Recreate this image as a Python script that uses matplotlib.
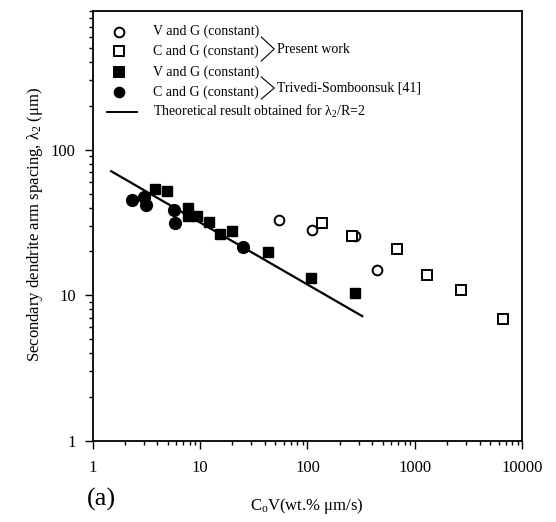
import matplotlib
matplotlib.use("Agg")
import matplotlib.pyplot as plt
from matplotlib.ticker import FuncFormatter, NullFormatter, LogLocator

plt.rcParams["font.family"] = ["Liberation Serif", "DejaVu Serif"]
plt.rcParams["mathtext.default"] = "regular"

# Present work
present_vg_x = [54.3, 109, 277, 440]
present_vg_y = [32.9, 28.0, 25.7, 15.0]
present_cg_x = [136, 258, 684, 1301, 2679, 6590]
present_cg_y = [31.4, 25.6, 20.7, 13.8, 10.8, 6.84]

# Trivedi-Somboonsuk [41]
trivedi_vg_x = [3.81, 4.88, 7.73, 7.73, 9.38, 12.1, 15.5, 19.8, 42.9, 107, 277]
trivedi_vg_y = [54.0, 51.9, 39.6, 35.2, 35.2, 31.9, 26.5, 27.8, 19.8, 13.1, 10.4]
trivedi_cg_x = [2.32, 2.99, 3.15, 5.77, 5.85, 25.1]
trivedi_cg_y = [44.8, 47.4, 41.4, 38.4, 31.1, 21.6]

# Theoretical result, lambda2/R = 2
theory_x = [1.49, 323]
theory_y = [71.2, 7.17]

x_ticks = [1, 10, 100, 1000, 10000]
y_ticks = [1, 10, 100]

LEGEND_SIZE = 10

fig = plt.figure(figsize=(5.56, 5.22), dpi=100)
ax = fig.add_axes([0.1664, 0.1561, 0.7733, 0.8228])

ax.plot(theory_x, theory_y, color="black", linewidth=1.6)
ax.plot(present_vg_x, present_vg_y, "o", markersize=7, markerfacecolor="white",
        markeredgecolor="black", markeredgewidth=1.4, linestyle="none")
ax.plot(present_cg_x, present_cg_y, "s", markersize=7, markerfacecolor="white",
        markeredgecolor="black", markeredgewidth=1.4, linestyle="none")
ax.plot(trivedi_vg_x, trivedi_vg_y, "s", markersize=7.5, color="black",
        linestyle="none")
ax.plot(trivedi_cg_x, trivedi_cg_y, "o", markersize=8.5, color="black",
        linestyle="none")

ax.set_xscale("log")
ax.set_yscale("log")
ax.set_xlim(1, 10000)
ax.set_ylim(1, 900)
ax.set_xticks(x_ticks)
ax.set_yticks(y_ticks)
ax.xaxis.set_minor_locator(LogLocator(base=10, subs=range(2, 10)))
ax.yaxis.set_minor_locator(LogLocator(base=10, subs=range(2, 10)))
fmt = FuncFormatter(lambda v, p: f"{v:g}")
ax.xaxis.set_major_formatter(fmt)
ax.yaxis.set_major_formatter(fmt)
ax.xaxis.set_minor_formatter(NullFormatter())
ax.yaxis.set_minor_formatter(NullFormatter())

ax.tick_params(which="both", direction="out", top=False, right=False,
               width=1.0, labelsize=12)
ax.tick_params(which="major", length=6)
ax.tick_params(which="minor", length=3)
ax.tick_params(axis="x", pad=8)
ax.tick_params(axis="y", pad=6)
for spine in ax.spines.values():
    spine.set_linewidth(1.3)

ax.set_xlabel("C$_o$V(wt.% μm/s)", fontsize=12)
ax.set_ylabel("Secondary dendrite arm spacing, λ$_2$ (μm)", fontsize=12)
ax.xaxis.set_label_coords(0.499, -0.129)
ax.yaxis.set_label_coords(-0.11, 0.502)

# ----------------------------------------
# Legend drawn by hand (with the braces)
# ----------------------------------------
legend_rows = [
    ("o", "white", "V and G (constant)", 0.952),
    ("s", "white", "C and G (constant)", 0.906),
    ("s", "black", "V and G (constant)", 0.858),
    ("o", "black", "C and G (constant)", 0.811),
]
row_texts = []
for marker, face, label, y in legend_rows:
    ax.plot([0.0616], [y], marker=marker, markersize=7, markerfacecolor=face,
            markeredgecolor="black", markeredgewidth=1.4,
            transform=ax.transAxes, clip_on=False)
    t = ax.text(0.1407, y, label, fontsize=LEGEND_SIZE, va="center",
                ha="left", transform=ax.transAxes)
    row_texts.append(t)

ax.plot([0.033, 0.103], [0.765, 0.765], color="black", linewidth=1.4,
        transform=ax.transAxes)
ax.text(0.1407, 0.765, "Theoretical result obtained for λ$_2$/R=2",
        fontsize=LEGEND_SIZE, va="center", ha="left", transform=ax.transAxes)

# braces placed just after the end of the "(constant)" texts
fig.canvas.draw()
renderer = fig.canvas.get_renderer()
ax_box = ax.get_window_extent(renderer)
text_end = max(t.get_window_extent(renderer).x1 for t in row_texts)
bx0 = (text_end + 2 - ax_box.x0) / ax_box.width
bx1 = bx0 + 13 / ax_box.width
tx = bx1 + 3 / ax_box.width

for (y_top, y_bot), label in [((0.9395, 0.8836), "Present work"),
                              ((0.8463, 0.7951), "Trivedi-Somboonsuk [41]")]:
    y_mid = (y_top + y_bot) / 2
    ax.plot([bx0, bx1, bx0], [y_top, y_mid, y_bot], color="black",
            linewidth=0.8, transform=ax.transAxes)
    ax.text(tx, y_mid, label, fontsize=LEGEND_SIZE, va="center", ha="left",
            transform=ax.transAxes)

fig.text(0.1817, 0.044, "(a)", fontsize=19, ha="center", va="center")

fig.savefig("out.png", dpi=100)
